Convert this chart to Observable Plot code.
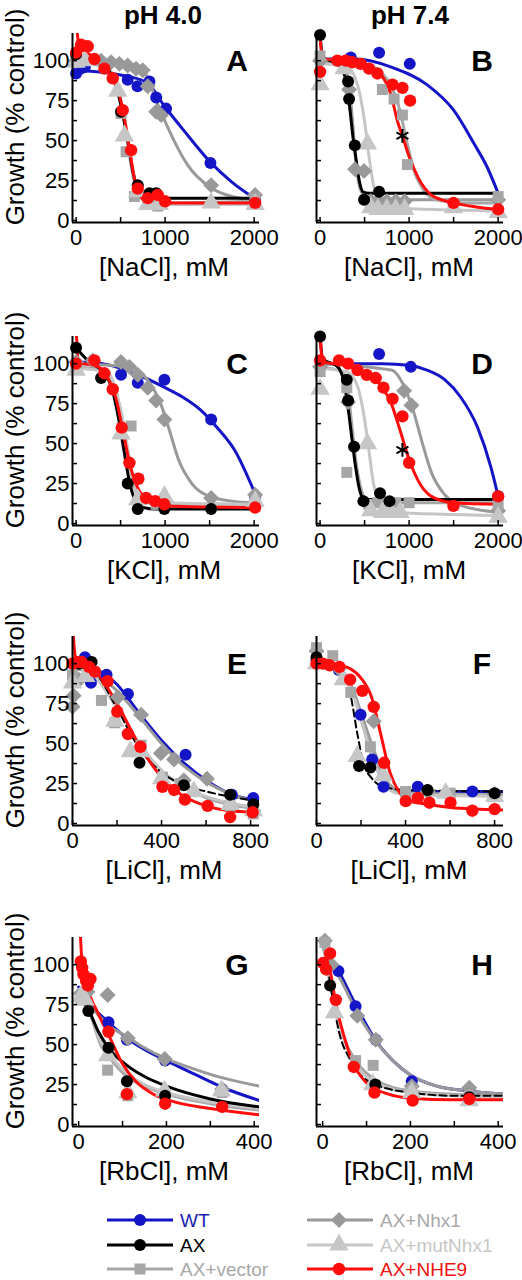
<!DOCTYPE html>
<html><head><meta charset="utf-8">
<script src="https://cdn.jsdelivr.net/npm/d3@7"></script>
<script src="https://cdn.jsdelivr.net/npm/@observablehq/plot@0.6"></script>
<style>
body{margin:0;background:#fff;font-family:"Liberation Sans",Arial,sans-serif;}
#fig{position:relative;width:522px;height:1280px;overflow:hidden;background:#fff;}
.abs{position:absolute;white-space:nowrap;line-height:1;transform:translate(-50%,-50%);}
.pl{position:absolute;}
</style></head><body><div id="fig"></div>
<script>
// ---------- series / style tables ----------
const SERIES = ["WT","Nhx1","vector","mutNhx1","AX","NHE9"];            // draw order
const LEGEND_KEYS = ["WT","AX","vector","Nhx1","mutNhx1","NHE9"];
const LEGEND_LABELS = ["WT","AX","AX+vector","AX+Nhx1","AX+mutNhx1","AX+NHE9"];
const COLORS = {WT:"#1515c8",AX:"#000000",vector:"#a6a6a6",Nhx1:"#999999",mutNhx1:"#c6c6c6",NHE9:"#ff0d0d"};
const TEXTCOLORS = {WT:"#1c1cb0",AX:"#000000",vector:"#a8a8a8",Nhx1:"#a8a8a8",mutNhx1:"#c6c6c6",NHE9:"#ee1111"};
const SYMBOLS = {WT:"circle",AX:"circle",vector:"square",Nhx1:"diamond2",mutNhx1:"triangle",NHE9:"circle"};
const RADII = {WT:6,AX:6,vector:6.2,Nhx1:7.2,mutNhx1:7.2,NHE9:6.2};

const COL_TITLES = ["pH 4.0","pH 7.4"];
const Y_DOMAIN = [-1.25, 117];
const Y_TICKS = [0,12.5,25,37.5,50,62.5,75,87.5,100];
const Y_LABELS = [0,25,50,75,100];
const SALT_DOMAIN = [-40, 2060], SALT_TICKS = [0,500,1000,1500,2000], SALT_LABELS = [0,1000,2000];
const LI_DOMAIN = [0, 840], LI_TICKS = [0,200,400,600,800], LI_LABELS = [0,400,800];
const RB_DOMAIN = [-14, 412], RB_TICKS = [0,100,200,300,400], RB_LABELS = [0,200,400];

// ---------- Panel A : NaCl pH 4.0 ----------
const A_points = [
["WT",0,92],["WT",50,95],["WT",100,96],["WT",580,88],["WT",690,84],["WT",824,87],["WT",900,77],["WT",1011,70],["WT",1509,36],["WT",2011,13],
["AX",0,104],["AX",505,68],["AX",693,22],["AX",824,17],["AX",900,17],
["vector",0,99],["vector",505,67],["vector",562,43],["vector",655,15],["vector",805,10],["vector",918,9],["vector",2011,14],
["Nhx1",0,100],["Nhx1",281,100],["Nhx1",393,99],["Nhx1",487,98],["Nhx1",580,97],["Nhx1",674,95],["Nhx1",749,94],["Nhx1",805,84],["Nhx1",899,68],["Nhx1",955,66],["Nhx1",1517,22],["Nhx1",2011,16],
["mutNhx1",0,99],["mutNhx1",100,100],["mutNhx1",468,81],["mutNhx1",543,53],["mutNhx1",693,18],["mutNhx1",805,10],["mutNhx1",936,10],["mutNhx1",1517,11],["mutNhx1",2011,10],
["NHE9",0,105],["NHE9",56,110],["NHE9",131,109],["NHE9",206,101],["NHE9",318,95],["NHE9",412,89],["NHE9",524,69],["NHE9",618,44],["NHE9",693,20],["NHE9",805,14],["NHE9",917,16],["NHE9",1000,12],["NHE9",2011,11]];
const A_curves = [
["WT",0,94],["WT",400,92],["WT",600,90],["WT",800,86],["WT",1000,71],["WT",1200,57],["WT",1500,37],["WT",1750,24],["WT",2000,14],
["AX",0,104],["AX",150,101],["AX",350,95],["AX",450,84],["AX",520,68],["AX",580,50],["AX",640,30],["AX",700,19],["AX",800,15],["AX",1000,14],["AX",2000,14],
["vector",0,100],["vector",350,95],["vector",450,84],["vector",520,68],["vector",580,48],["vector",640,28],["vector",700,16],["vector",800,12],["vector",1000,11],["vector",2000,12],
["Nhx1",0,100],["Nhx1",500,99],["Nhx1",700,96],["Nhx1",800,90],["Nhx1",900,75],["Nhx1",1000,62],["Nhx1",1100,50],["Nhx1",1250,35],["Nhx1",1500,21],["Nhx1",1750,15],["Nhx1",2000,13],
["mutNhx1",0,100],["mutNhx1",350,96],["mutNhx1",450,86],["mutNhx1",520,70],["mutNhx1",580,50],["mutNhx1",640,30],["mutNhx1",700,17],["mutNhx1",800,11],["mutNhx1",1000,10],["mutNhx1",2000,10],
["NHE9",0,125],["NHE9",40,108],["NHE9",150,104],["NHE9",300,97],["NHE9",400,90],["NHE9",480,80],["NHE9",540,65],["NHE9",600,45],["NHE9",650,28],["NHE9",700,17],["NHE9",800,12],["NHE9",1000,11],["NHE9",2000,11]];

// ---------- Panel B : NaCl pH 7.4 ----------
const B_points = [
["WT",345,102],["WT",663,105],["WT",1007,98],
["AX",0,116],["AX",315,87],["AX",326,76],["AX",390,47],["AX",494,13],["AX",663,18],
["vector",0,103],["vector",270,97],["vector",700,82],["vector",831,76],["vector",925,66],["vector",981,35],["vector",1498,10],["vector",2000,15],
["Nhx1",0,100],["Nhx1",326,82],["Nhx1",393,32],["Nhx1",494,31],["Nhx1",570,12],["Nhx1",650,12],["Nhx1",750,12],["Nhx1",850,12],["Nhx1",950,12],["Nhx1",2000,13],
["mutNhx1",0,85],["mutNhx1",270,95],["mutNhx1",532,48],["mutNhx1",570,8],["mutNhx1",650,7],["mutNhx1",750,7],["mutNhx1",850,7],["mutNhx1",950,7],["mutNhx1",1498,8],["mutNhx1",2000,5],
["NHE9",0,93],["NHE9",195,100],["NHE9",288,100],["NHE9",363,99],["NHE9",457,98],["NHE9",550,95],["NHE9",644,92],["NHE9",813,85],["NHE9",925,83],["NHE9",1011,75],["NHE9",1498,11],["NHE9",2000,7]];
const B_curves = [
["WT",0,101],["WT",400,101],["WT",800,96],["WT",1200,85],["WT",1500,69],["WT",1730,48],["WT",1880,33],["WT",2000,17],
["AX",0,117],["AX",30,102],["AX",200,98],["AX",280,90],["AX",330,72],["AX",370,52],["AX",400,40],["AX",440,25],["AX",480,18],["AX",550,17],["AX",2000,17],
["Nhx1",0,100],["Nhx1",250,98],["Nhx1",320,88],["Nhx1",360,65],["Nhx1",400,38],["Nhx1",450,20],["Nhx1",520,14],["Nhx1",650,13],["Nhx1",2000,13],
["mutNhx1",0,98],["mutNhx1",300,96],["mutNhx1",420,85],["mutNhx1",500,62],["mutNhx1",550,40],["mutNhx1",600,22],["mutNhx1",680,11],["mutNhx1",800,8],["mutNhx1",1200,7],["mutNhx1",2000,6],
["vector",0,100],["vector",500,98],["vector",700,92],["vector",800,84],["vector",900,68],["vector",980,48],["vector",1050,32],["vector",1150,20],["vector",1300,13],["vector",1600,11],["vector",2000,11],
["NHE9",0,115],["NHE9",30,101],["NHE9",300,100],["NHE9",550,96],["NHE9",700,90],["NHE9",800,78],["NHE9",870,62],["NHE9",925,53],["NHE9",1000,40],["NHE9",1100,27],["NHE9",1250,16],["NHE9",1500,11],["NHE9",1750,8.5],["NHE9",2000,7]];
const B_star = [[925,53]];

// ---------- Panel C : KCl pH 4.0 ----------
const C_points = [
["WT",505,93],["WT",693,88],["WT",992,90],["WT",1517,65],["WT",2011,17],
["AX",0,110],["AX",281,91],["AX",580,25],["AX",693,9],["AX",992,9],["AX",1517,9],
["vector",0,97],["vector",618,61],["vector",730,15],["vector",900,12],["vector",2011,13],
["Nhx1",0,101],["Nhx1",187,102],["Nhx1",505,101],["Nhx1",599,98],["Nhx1",693,93],["Nhx1",805,85],["Nhx1",899,77],["Nhx1",992,65],["Nhx1",1517,16],["Nhx1",2011,18],
["mutNhx1",0,96],["mutNhx1",505,56],["mutNhx1",693,15],["mutNhx1",992,17],["mutNhx1",2011,14],
["NHE9",0,100],["NHE9",206,102],["NHE9",318,94],["NHE9",412,84],["NHE9",513,60],["NHE9",599,38],["NHE9",700,28],["NHE9",786,16],["NHE9",888,14],["NHE9",992,12],["NHE9",2011,10]];
const C_curves = [
["WT",0,101],["WT",300,100],["WT",650,94],["WT",1000,85],["WT",1200,79],["WT",1400,71],["WT",1600,59],["WT",1780,46],["WT",2000,20],
["AX",0,110],["AX",150,101],["AX",300,95],["AX",400,85],["AX",480,65],["AX",540,45],["AX",600,26],["AX",660,15],["AX",750,10],["AX",900,9],["AX",2000,9],
["Nhx1",0,100],["Nhx1",600,98],["Nhx1",800,90],["Nhx1",950,75],["Nhx1",1050,58],["Nhx1",1150,40],["Nhx1",1300,25],["Nhx1",1500,17],["Nhx1",1750,14],["Nhx1",2000,13],
["vector",0,98],["vector",350,95],["vector",450,82],["vector",520,65],["vector",580,45],["vector",640,26],["vector",700,17],["vector",800,13],["vector",1000,12],["vector",2000,12],
["mutNhx1",0,97],["mutNhx1",350,95],["mutNhx1",450,83],["mutNhx1",520,66],["mutNhx1",580,47],["mutNhx1",640,28],["mutNhx1",700,18],["mutNhx1",800,14],["mutNhx1",1000,13],["mutNhx1",2000,12],
["NHE9",0,122],["NHE9",30,101],["NHE9",250,98],["NHE9",350,92],["NHE9",450,78],["NHE9",530,57],["NHE9",600,38],["NHE9",670,25],["NHE9",750,17],["NHE9",850,13],["NHE9",1000,11],["NHE9",2000,10]];

// ---------- Panel D : KCl pH 7.4 ----------
const D_points = [
["WT",663,106],["WT",1019,98],["WT",2000,17],
["AX",0,117],["AX",300,90],["AX",315,77],["AX",382,48],["AX",487,14],["AX",674,19],["AX",780,14],
["vector",0,95],["vector",300,85],["vector",300,32],["vector",550,12],["vector",650,13],["vector",750,13],["vector",850,13],["vector",1000,13],["vector",2000,12],
["Nhx1",0,98],["Nhx1",315,76],["Nhx1",944,83],["Nhx1",1026,74],["Nhx1",2000,8],
["mutNhx1",0,84],["mutNhx1",532,50],["mutNhx1",570,8],["mutNhx1",700,7],["mutNhx1",800,7],["mutNhx1",900,7],["mutNhx1",2000,4],
["NHE9",0,102],["NHE9",213,102],["NHE9",315,100],["NHE9",420,96],["NHE9",524,93],["NHE9",625,91],["NHE9",712,85],["NHE9",813,78],["NHE9",925,67],["NHE9",1000,38],["NHE9",1498,11],["NHE9",2000,17]];
const D_curves = [
["WT",0,100],["WT",700,100],["WT",1000,99],["WT",1200,96],["WT",1400,90],["WT",1580,79],["WT",1770,60],["WT",1920,35],["WT",2000,17],
["AX",0,117],["AX",30,103],["AX",200,98],["AX",270,88],["AX",320,70],["AX",360,52],["AX",400,35],["AX",440,22],["AX",480,16],["AX",550,15],["AX",2000,15],
["Nhx1",0,100],["Nhx1",800,96],["Nhx1",950,85],["Nhx1",1050,70],["Nhx1",1150,50],["Nhx1",1250,32],["Nhx1",1400,18],["Nhx1",1600,11],["Nhx1",2000,7],
["vector",0,98],["vector",250,95],["vector",320,80],["vector",360,60],["vector",400,40],["vector",450,24],["vector",500,16],["vector",600,13],["vector",2000,13],
["mutNhx1",0,97],["mutNhx1",300,95],["mutNhx1",420,86],["mutNhx1",500,65],["mutNhx1",550,45],["mutNhx1",600,25],["mutNhx1",680,12],["mutNhx1",800,7],["mutNhx1",2000,5],
["NHE9",0,118],["NHE9",30,101],["NHE9",300,99],["NHE9",550,93],["NHE9",700,85],["NHE9",800,75],["NHE9",900,58],["NHE9",1000,40],["NHE9",1100,27],["NHE9",1250,17],["NHE9",1500,13],["NHE9",2000,12]];
const D_star = [[925,46]];

// ---------- Panel E : LiCl pH 4.0 ----------
const E_points = [
["WT",56,104],["WT",83,88],["WT",153,93],["WT",249,81],["WT",508,43],["WT",716,18],["WT",812,16],
["AX",30,100],["AX",86,101],["AX",301,38],["AX",500,24],["AX",708,18],["AX",812,12],
["vector",0,93],["vector",130,77],["vector",190,63],["vector",308,49],["vector",404,29],["vector",486,25],["vector",708,11],["vector",812,6],
["Nhx1",0,73],["Nhx1",5,80],["Nhx1",30,90],["Nhx1",204,79],["Nhx1",308,68],["Nhx1",397,44],["Nhx1",456,40],["Nhx1",500,27],["Nhx1",604,28],["Nhx1",812,8],
["mutNhx1",0,88],["mutNhx1",60,92],["mutNhx1",190,64],["mutNhx1",260,45],["mutNhx1",308,45],["mutNhx1",400,28],["mutNhx1",545,20],["mutNhx1",708,12],["mutNhx1",812,8],
["NHE9",0,100],["NHE9",19,101],["NHE9",41,101],["NHE9",74,98],["NHE9",101,95],["NHE9",157,89],["NHE9",201,70],["NHE9",249,56],["NHE9",305,48],["NHE9",404,23],["NHE9",456,21],["NHE9",505,15],["NHE9",607,11],["NHE9",708,4],["NHE9",809,7]];
const E_curves = [
["WT",0,101],["WT",100,97],["WT",200,87],["WT",300,69],["WT",400,52],["WT",500,38],["WT",600,27],["WT",700,19],["WT",840,14],
["AX",0,102],["AX",100,95],["AX",200,72],["AX",300,47],["AX",400,32],["AX",500,24],["AX",600,20],["AX",700,17],["AX",840,14],
["Nhx1",0,97],["Nhx1",100,94],["Nhx1",200,83],["Nhx1",300,67],["Nhx1",400,50],["Nhx1",500,36],["Nhx1",600,26],["Nhx1",700,19],["Nhx1",840,13],
["vector",0,98],["vector",100,92],["vector",200,72],["vector",300,50],["vector",400,33],["vector",500,23],["vector",600,16],["vector",700,12],["vector",840,9],
["mutNhx1",0,98],["mutNhx1",100,92],["mutNhx1",200,72],["mutNhx1",300,50],["mutNhx1",400,33],["mutNhx1",500,23],["mutNhx1",600,17],["mutNhx1",700,13],["mutNhx1",840,10],
["NHE9",0,125],["NHE9",15,103],["NHE9",100,96],["NHE9",200,75],["NHE9",300,49],["NHE9",400,29],["NHE9",500,17],["NHE9",600,11],["NHE9",700,8],["NHE9",840,7]];

// ---------- Panel F : LiCl pH 7.4 ----------
const F_points = [
["WT",0,102],["WT",100,96],["WT",198,68],["WT",250,40],["WT",301,23],["WT",455,23],["WT",700,20],
["AX",0,104],["AX",191,36],["AX",242,35],["AX",499,21],["AX",800,19],
["vector",0,110],["vector",73,105],["vector",154,82],["vector",242,48],["vector",400,20],["vector",600,19],["vector",800,18],
["Nhx1",0,108],["Nhx1",100,97],["Nhx1",257,64],["Nhx1",500,20],["Nhx1",800,18],
["mutNhx1",0,100],["mutNhx1",120,90],["mutNhx1",183,42],["mutNhx1",300,30],["mutNhx1",580,19],["mutNhx1",800,17],
["NHE9",0,100],["NHE9",29,100],["NHE9",59,99],["NHE9",103,98],["NHE9",151,90],["NHE9",206,83],["NHE9",257,73],["NHE9",304,38],["NHE9",401,14],["NHE9",455,16],["NHE9",507,13],["NHE9",602,13],["NHE9",700,8],["NHE9",800,9]];
const F_curves = [
["WT",0,101],["WT",100,97],["WT",150,88],["WT",200,66],["WT",250,42],["WT",300,27],["WT",350,21],["WT",400,20],["WT",840,20],
["AX",0,101],["AX",100,95],["AX",150,82],["AX",185,55],["AX",210,38],["AX",250,28],["AX",300,23],["AX",400,21],["AX",840,20],
["Nhx1",0,101],["Nhx1",100,96],["Nhx1",160,85],["Nhx1",210,65],["Nhx1",260,45],["Nhx1",310,28],["Nhx1",360,21],["Nhx1",420,19],["Nhx1",840,18],
["vector",0,101],["vector",100,96],["vector",160,84],["vector",210,62],["vector",260,40],["vector",310,25],["vector",360,20],["vector",420,19],["vector",840,18],
["mutNhx1",0,100],["mutNhx1",100,95],["mutNhx1",160,82],["mutNhx1",210,60],["mutNhx1",260,38],["mutNhx1",310,24],["mutNhx1",360,19],["mutNhx1",420,18],["mutNhx1",840,17],
["NHE9",0,104],["NHE9",100,99],["NHE9",150,97],["NHE9",200,91],["NHE9",250,78],["NHE9",290,55],["NHE9",330,32],["NHE9",370,20],["NHE9",420,14],["NHE9",500,12],["NHE9",600,10],["NHE9",840,8.5]];

// ---------- Panel G : RbCl pH 4.0 ----------
const G_points = [
["WT",68,64],["WT",110,53],["WT",197,40],["WT",327,22],
["AX",22,71],["AX",68,48],["AX",110,27],["AX",197,18],
["vector",5,78],["vector",66,34],["vector",112,18],["vector",196,19],["vector",327,20],
["Nhx1",5,82],["Nhx1",20,83],["Nhx1",66,81],["Nhx1",112,54],["Nhx1",196,41],["Nhx1",327,22],
["mutNhx1",5,80],["mutNhx1",15,78],["mutNhx1",66,43],["mutNhx1",112,20],["mutNhx1",196,21],["mutNhx1",325,21],
["NHE9",5,102],["NHE9",8,98],["NHE9",11,94],["NHE9",17,90],["NHE9",21,87],["NHE9",27,91],["NHE9",68,58],["NHE9",110,19],["NHE9",197,13],["NHE9",327,11]];
const G_curves = [
["WT",0,86],["WT",30,74],["WT",68,64],["WT",110,54],["WT",150,47],["WT",200,40],["WT",260,32],["WT",330,23],["WT",412,15],
["AX",0,80],["AX",22,72],["AX",45,58],["AX",68,48],["AX",110,37],["AX",150,30],["AX",200,24],["AX",300,16],["AX",412,11],
["Nhx1",0,82],["Nhx1",30,73],["Nhx1",68,62],["Nhx1",110,55],["Nhx1",150,48],["Nhx1",200,41],["Nhx1",260,35],["Nhx1",330,29],["Nhx1",412,24],
["vector",0,80],["vector",25,70],["vector",50,50],["vector",70,42],["vector",110,30],["vector",150,24],["vector",200,19],["vector",300,13],["vector",412,9],
["mutNhx1",0,81],["mutNhx1",25,71],["mutNhx1",50,52],["mutNhx1",70,44],["mutNhx1",110,32],["mutNhx1",150,25],["mutNhx1",200,20],["mutNhx1",300,14],["mutNhx1",412,10],
["NHE9",3,125],["NHE9",8,100],["NHE9",20,85],["NHE9",40,72],["NHE9",70,55],["NHE9",100,38],["NHE9",130,27],["NHE9",170,19],["NHE9",220,14],["NHE9",300,10],["NHE9",412,6]];

// ---------- Panel H : RbCl pH 7.4 ----------
const H_points = [
["WT",36,96],["WT",75,74],["WT",121,53],["WT",203,27],["WT",334,22],
["AX",17,87],["AX",120,25],["AX",334,17],
["vector",5,114],["vector",75,40],["vector",115,37],["vector",203,21],["vector",334,18],
["Nhx1",5,115],["Nhx1",20,100],["Nhx1",79,68],["Nhx1",121,53],["Nhx1",203,24],["Nhx1",334,23],
["mutNhx1",27,70],["mutNhx1",114,25],["mutNhx1",203,20],["mutNhx1",334,15],
["NHE9",1,101],["NHE9",8,97],["NHE9",17,107],["NHE9",30,78],["NHE9",71,36],["NHE9",118,20],["NHE9",205,15],["NHE9",334,16]];
const H_curves = [
["WT",20,103],["WT",36,96],["WT",75,75],["WT",120,53],["WT",160,40],["WT",200,31],["WT",260,24],["WT",330,21],["WT",412,19],
["Nhx1",0,112],["Nhx1",20,100],["Nhx1",40,91],["Nhx1",79,70],["Nhx1",121,52],["Nhx1",160,40],["Nhx1",200,31],["Nhx1",260,24],["Nhx1",330,21],["Nhx1",412,19],
["AX",15,92],["AX",25,75],["AX",40,55],["AX",60,42],["AX",80,33],["AX",120,25],["AX",200,20],["AX",300,18],["AX",412,18],
["vector",0,112],["vector",15,95],["vector",30,72],["vector",50,53],["vector",75,40],["vector",120,28],["vector",200,21],["vector",300,19],["vector",412,18],
["mutNhx1",5,100],["mutNhx1",20,85],["mutNhx1",30,70],["mutNhx1",50,52],["mutNhx1",75,38],["mutNhx1",120,26],["mutNhx1",200,20],["mutNhx1",300,18],["mutNhx1",412,17],
["NHE9",10,108],["NHE9",20,92],["NHE9",30,76],["NHE9",50,54],["NHE9",70,38],["NHE9",100,26],["NHE9",150,19],["NHE9",200,16.5],["NHE9",300,15.5],["NHE9",412,15.5]];

// ---------- layout ----------
const ROW_TOP = [0,303,603,904];
const COL_LEFT = [0,244], COL_W = [261,278];
const panels = [
 {id:"A",row:0,col:0,pts:A_points,crv:A_curves,dom:SALT_DOMAIN,ticks:SALT_TICKS,labs:SALT_LABELS,xlabel:"[NaCl], mM",star:null,dash:false},
 {id:"B",row:0,col:1,pts:B_points,crv:B_curves,dom:SALT_DOMAIN,ticks:SALT_TICKS,labs:SALT_LABELS,xlabel:"[NaCl], mM",star:B_star,dash:false},
 {id:"C",row:1,col:0,pts:C_points,crv:C_curves,dom:SALT_DOMAIN,ticks:SALT_TICKS,labs:SALT_LABELS,xlabel:"[KCl], mM",star:null,dash:false},
 {id:"D",row:1,col:1,pts:D_points,crv:D_curves,dom:SALT_DOMAIN,ticks:SALT_TICKS,labs:SALT_LABELS,xlabel:"[KCl], mM",star:D_star,dash:false},
 {id:"E",row:2,col:0,pts:E_points,crv:E_curves,dom:LI_DOMAIN,ticks:LI_TICKS,labs:LI_LABELS,xlabel:"[LiCl], mM",star:null,dash:true},
 {id:"F",row:2,col:1,pts:F_points,crv:F_curves,dom:LI_DOMAIN,ticks:LI_TICKS,labs:LI_LABELS,xlabel:"[LiCl], mM",star:null,dash:true},
 {id:"G",row:3,col:0,pts:G_points,crv:G_curves,dom:RB_DOMAIN,ticks:RB_TICKS,labs:RB_LABELS,xlabel:"[RbCl], mM",star:null,dash:false},
 {id:"H",row:3,col:1,pts:H_points,crv:H_curves,dom:RB_DOMAIN,ticks:RB_TICKS,labs:RB_LABELS,xlabel:"[RbCl], mM",star:null,dash:true}
];

const fig = document.getElementById("fig");
function addText(txt, x, y, css, rotate) {
  const el = document.createElement("div");
  el.className = "abs";
  el.textContent = txt;
  el.style.left = x + "px"; el.style.top = y + "px";
  Object.assign(el.style, css || {});
  if (rotate) el.style.transform = "translate(-50%,-50%) rotate(-90deg)";
  fig.appendChild(el);
  return el;
}

const fx = d => d[1], fy = d => d[2];
for (const p of panels) {
  const W = COL_W[p.col];
  const marks = [];
  for (const s of SERIES) {
    const c = p.crv.filter(d => d[0] === s);
    const dashed = s === "AX" && p.dash;
    marks.push(Plot.line(c, {x: fx, y: fy, stroke: COLORS[s], strokeWidth: dashed ? 2 : 3,
      strokeDasharray: dashed ? "7,4" : null, curve: "monotone-x", clip: true}));
  }
  for (const s of SERIES) {
    const c = p.pts.filter(d => d[0] === s);
    marks.push(Plot.dot(c, {x: fx, y: fy, symbol: SYMBOLS[s], fill: COLORS[s], r: RADII[s]}));
  }
  if (p.star) marks.push(Plot.dot(p.star, {x: d => d[0], y: d => d[1], symbol: "asterisk", stroke: "#000", strokeWidth: 2, r: 6.5}));
  // axis lines
  marks.push(Plot.ruleX([p.dom[0]], {stroke: "#000", strokeWidth: 2}));
  marks.push(Plot.ruleY([Y_DOMAIN[0]], {stroke: "#000", strokeWidth: 2}));
  // inward ticks
  marks.push(Plot.axisY({ticks: Y_TICKS, anchor: "left", tickSize: 5, dx: 5, fill: "none", label: null, strokeWidth: 1.5}));
  marks.push(Plot.axisX({ticks: p.ticks, anchor: "bottom", tickSize: 5, dy: -5, fill: "none", label: null, strokeWidth: 1.5}));
  // tick labels
  marks.push(Plot.axisX({ticks: p.labs, anchor: "bottom", tickSize: 0, tickPadding: 7, label: null, tickFormat: d => String(d)}));
  if (p.col === 0) marks.push(Plot.axisY({ticks: Y_LABELS, anchor: "left", tickSize: 0, tickPadding: 3, label: null, tickFormat: d => String(d)}));

  const svg = Plot.plot({
    width: W, height: 301,
    marginLeft: 72, marginRight: W - 259, marginTop: 33, marginBottom: 79,
    x: {domain: p.dom, axis: null},
    y: {domain: Y_DOMAIN, axis: null},
    style: {fontFamily: "'Liberation Sans', Arial, sans-serif", fontSize: "22px", background: "none", overflow: "visible", color: "#000"},
    marks
  });
  svg.classList.add("pl");
  svg.style.left = COL_LEFT[p.col] + "px";
  svg.style.top = ROW_TOP[p.row] + "px";
  fig.appendChild(svg);

  const top = ROW_TOP[p.row];
  addText(p.id, p.col === 0 ? 237 : 482, top + 61, {fontSize: "30px", fontWeight: "bold"});
  addText(p.xlabel, p.col === 0 ? 164 : 409, top + 267, {fontSize: "26px"});
  if (p.col === 0) addText("Growth (% control)", 15, top + 117, {fontSize: "26px"}, true);
}
addText(COL_TITLES[0], 163, 15, {fontSize: "26px", fontWeight: "bold"});
addText(COL_TITLES[1], 410, 15, {fontSize: "26px", fontWeight: "bold"});

// ---------- legend ----------
const LEG_ROWS = [1220, 1245, 1269];
const LEG_COLS = [{line:[107,173], mark:140, text:180}, {line:[307,373], mark:339, text:380}];
const ns = "http://www.w3.org/2000/svg";
const lsvg = document.createElementNS(ns, "svg");
lsvg.setAttribute("width", 522); lsvg.setAttribute("height", 1280);
lsvg.style.position = "absolute"; lsvg.style.left = "0"; lsvg.style.top = "0"; lsvg.style.pointerEvents = "none";
const symMap = {circle: d3.symbolCircle, square: d3.symbolSquare, diamond2: d3.symbolDiamond2, triangle: d3.symbolTriangle};
LEGEND_KEYS.forEach((k, i) => {
  const col = LEG_COLS[Math.floor(i / 3)], y = LEG_ROWS[i % 3];
  const ln = document.createElementNS(ns, "line");
  ln.setAttribute("x1", col.line[0]); ln.setAttribute("x2", col.line[1]);
  ln.setAttribute("y1", y); ln.setAttribute("y2", y);
  ln.setAttribute("stroke", COLORS[k]); ln.setAttribute("stroke-width", 3);
  lsvg.appendChild(ln);
  const r = RADII[k];
  const path = document.createElementNS(ns, "path");
  path.setAttribute("d", d3.symbol(symMap[SYMBOLS[k]], Math.PI * r * r)());
  path.setAttribute("transform", `translate(${col.mark},${y})`);
  path.setAttribute("fill", COLORS[k]);
  lsvg.appendChild(path);
  const t = addText(LEGEND_LABELS[i], col.text, y, {fontSize: "19px", color: TEXTCOLORS[k]});
  t.style.transform = "translate(0,-50%)";
});
fig.appendChild(lsvg);
</script></body></html>
